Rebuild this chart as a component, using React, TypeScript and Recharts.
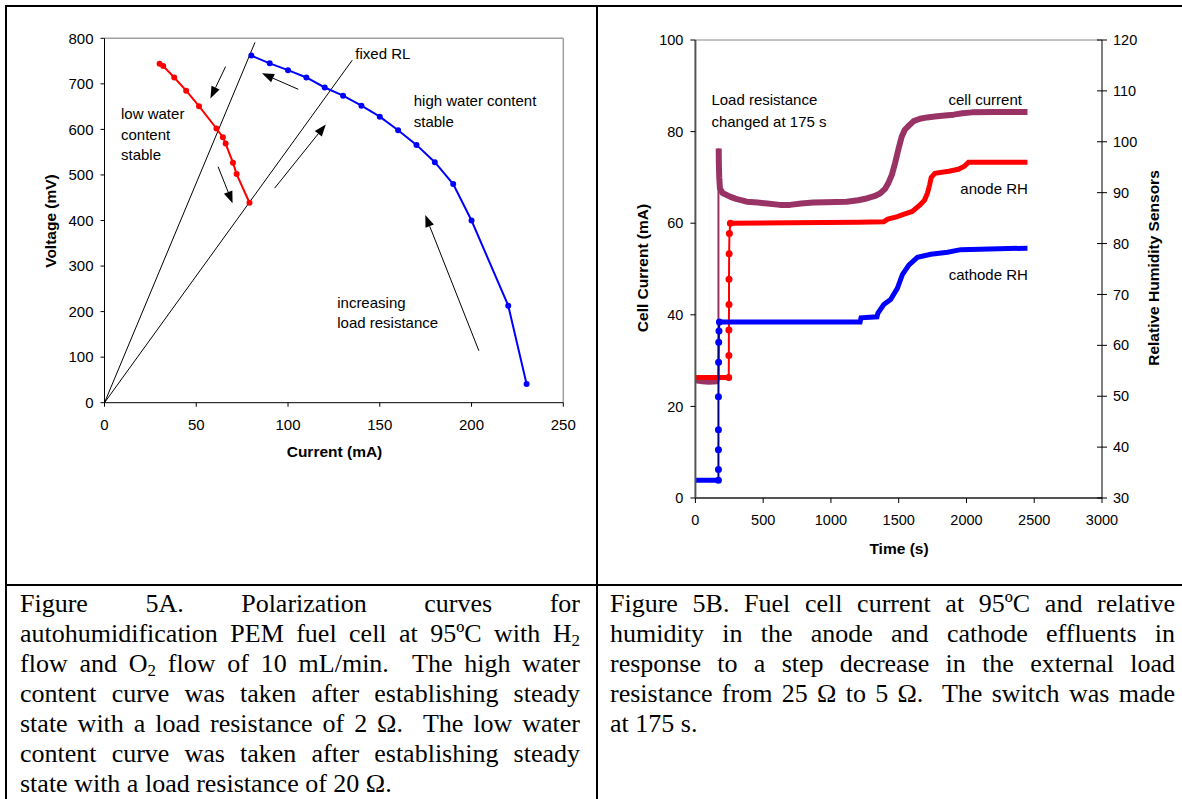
import React from 'react';
import { ComposedChart, Line, XAxis, YAxis, ReferenceLine, ReferenceDot } from 'recharts';

// ---------- Figure 5A data (polarization curves) ----------
const highCurrent = [80, 90, 100, 110, 120, 130, 140, 150, 160, 170, 180, 190, 200, 220, 230];
const highVoltage = [762, 745, 730, 714, 692, 674, 652, 628, 598, 566, 528, 480, 400, 213, 41];
const lowCurrent = [30, 32, 38, 44.5, 51.5, 61, 64.5, 66, 70, 72, 79];
const lowVoltage = [744, 739, 714, 685, 651, 602, 583, 569, 527, 502, 439];
const polXTicks = [0, 50, 100, 150, 200, 250];
const polYTicks = [0, 100, 200, 300, 400, 500, 600, 700, 800];
// load lines drawn from the origin to these end points (current, voltage)
const loadLineEnds = [
  { x: 82, y: 791 },
  { x: 135, y: 752 },
];
// annotation arrows: [from, to] in (current, voltage)
const polArrows = [
  [{ x: 66, y: 738 }, { x: 57.7, y: 668 }],
  [{ x: 61.9, y: 518 }, { x: 69.8, y: 438 }],
  [{ x: 105.6, y: 688 }, { x: 85.8, y: 723 }],
  [{ x: 92.7, y: 471 }, { x: 120.6, y: 611 }],
  [{ x: 204, y: 114 }, { x: 174.8, y: 412 }],
];
const polLabels = [
  { x: 136.7, y: 767, text: 'fixed RL' },
  { x: 168.5, y: 664, text: 'high water content' },
  { x: 168.5, y: 617, text: 'stable' },
  { x: 9, y: 634, text: 'low water' },
  { x: 9, y: 588, text: 'content' },
  { x: 9, y: 544, text: 'stable' },
  { x: 126.8, y: 220, text: 'increasing' },
  { x: 126.8, y: 176, text: 'load resistance' },
];

// ---------- Figure 5B data (transient) ----------
const cellBeforeT = [0, 50, 100, 168];
const cellBeforeV = [25.6, 25.4, 25.3, 25.4];
const cellJumpT = [170, 170];
const cellJumpV = [25.4, 76.3];
const cellAfterT = [172, 173, 176, 181, 200, 255, 300, 378, 460, 530, 624, 698, 780, 870, 960, 1116, 1200, 1264, 1320, 1362, 1400, 1423, 1450, 1473, 1500, 1522, 1545, 1575, 1610, 1657, 1710, 1767, 1840, 1905, 1970, 2040, 2200, 2450];
const cellAfterV = [76.3, 73, 70, 67.6, 66.6, 65.8, 65.3, 64.7, 64.5, 64.3, 64.0, 64.0, 64.3, 64.5, 64.6, 64.7, 65.0, 65.4, 65.9, 66.5, 67.5, 68.7, 70.6, 73.1, 76.4, 78.9, 80.4, 81.3, 82.3, 82.8, 83.1, 83.3, 83.5, 83.7, 84.0, 84.2, 84.3, 84.3];

const anodeBeforeT = [0, 120, 250];
const anodeBeforeV = [53.7, 53.7, 53.7];
const anodeJumpT = [246, 247, 247, 248, 248, 249, 251, 258];
const anodeJumpV = [53.7, 58, 63, 68, 73, 78, 82, 84];
const anodeAfterT = [258, 700, 1200, 1390, 1420, 1490, 1540, 1600, 1657, 1690, 1712, 1728, 1740, 1767, 1870, 1940, 1985, 2015, 2450];
const anodeAfterV = [84, 84.1, 84.2, 84.3, 84.8, 85.3, 85.8, 86.3, 87.6, 88.5, 89.9, 91.5, 93, 93.8, 94.2, 94.6, 95.2, 96, 96];

const cathodeBeforeT = [0, 170];
const cathodeBeforeV = [33.5, 33.5];
const cathodeJumpT = [170, 170, 170, 170, 170, 171, 172, 174, 177];
const cathodeJumpV = [33.5, 35.6, 39.5, 43.4, 49.9, 56.7, 60.6, 62.8, 64.6];
const cathodeAfterT = [177, 700, 1215, 1222, 1340, 1346, 1390, 1440, 1490, 1527, 1576, 1638, 1737, 1860, 1958, 2450];
const cathodeAfterV = [64.6, 64.6, 64.6, 65.4, 65.6, 66.3, 68, 69, 71.2, 73.9, 75.8, 77.3, 77.9, 78.3, 78.8, 79.1];

const timeTicks = [0, 500, 1000, 1500, 2000, 2500, 3000];
const currentTicks = [0, 20, 40, 60, 80, 100];
const rhTicks = [30, 40, 50, 60, 70, 80, 90, 100, 110, 120];
const transientLabels = [
  { x: 118, y: 87.1, text: 'Load resistance', anchor: 'start' },
  { x: 118, y: 82.1, text: 'changed at 175 s', anchor: 'start' },
  { x: 2409, y: 87.1, text: 'cell current', anchor: 'end' },
  { x: 2453, y: 67.5, text: 'anode RH', anchor: 'end' },
  { x: 2453, y: 48.8, text: 'cathode RH', anchor: 'end' },
];

const captionLeft = [
  'Figure 5A. Polarization curves for',
  'autohumidification PEM fuel cell at 95ºC with H|2',
  'flow and O|2| flow of 10 mL/min.  The high water',
  'content curve was taken after establishing steady',
  'state with a load resistance of 2 Ω.  The low water',
  'content curve was taken after establishing steady',
  'state with a load resistance of 20 Ω.',
];
const captionRight = [
  'Figure 5B. Fuel cell current at 95ºC and relative',
  'humidity in the anode and cathode effluents in',
  'response to a step decrease in the external load',
  'resistance from 25 Ω to 5 Ω.  The switch was made',
  'at 175 s.',
];

const zip = (xs: number[], ys: number[]) => xs.map((x, i) => ({ x, y: ys[i] }));

const SANS = 'Liberation Sans, Arial, sans-serif';
const SERIF = 'Liberation Serif, Times New Roman, serif';

const arrowShape = (props: any) => {
  const { x1, y1, x2, y2 } = props;
  const dx = x2 - x1;
  const dy = y2 - y1;
  const len = Math.sqrt(dx * dx + dy * dy) || 1;
  const ux = dx / len;
  const uy = dy / len;
  const hl = 12;
  const hw = 4.5;
  const bx = x2 - ux * hl;
  const by = y2 - uy * hl;
  const nx = -uy;
  const ny = ux;
  return (
    <g>
      <line x1={x1} y1={y1} x2={bx} y2={by} stroke="#000" strokeWidth={1} />
      <polygon points={`${x2},${y2} ${bx + nx * hw},${by + ny * hw} ${bx - nx * hw},${by - ny * hw}`} fill="#000" />
    </g>
  );
};

const textShape = (text: string, anchor: string) => (props: any) => (
  <text x={props.cx} y={props.cy} textAnchor={anchor} dominantBaseline="central" fontSize={15} fontFamily={SANS} fill="#000">
    {text}
  </text>
);

const RightTick = (props: any) => {
  const { x, y, payload } = props;
  const ax = x - 11;
  return (
    <g>
      <line x1={ax - 5} x2={ax} y1={y} y2={y} stroke="#000" strokeWidth={1} />
      <text x={x} y={y} dy="0.355em" textAnchor="start" fontSize={14.5} fontFamily={SANS} fill="#000">
        {payload.value}
      </text>
    </g>
  );
};

function PolarizationChart() {
  return (
    <ComposedChart width={600} height={470} margin={{ top: 38.3, right: 36.7, bottom: 37.3, left: 44.5 }}>
      <XAxis
        type="number"
        dataKey="x"
        domain={[0, 250]}
        ticks={polXTicks}
        allowDataOverflow
        height={30}
        stroke="#000"
        tickSize={4}
        tickMargin={13}
        tick={{ fontSize: 15, fill: '#000', fontFamily: SANS }}
      />
      <YAxis
        type="number"
        dataKey="y"
        domain={[0, 800]}
        ticks={polYTicks}
        allowDataOverflow
        width={60}
        stroke="#000"
        tickSize={4}
        tickMargin={7}
        tick={{ fontSize: 15, fill: '#000', fontFamily: SANS }}
      />
      <ReferenceLine y={800} stroke="#a0a0a0" strokeWidth={1.5} />
      <ReferenceLine x={250} stroke="#a0a0a0" strokeWidth={1.5} />
      {loadLineEnds.map((e, i) => (
        <ReferenceLine key={'ll' + i} segment={[{ x: 0, y: 0 }, e]} stroke="#000" strokeWidth={1} ifOverflow="visible" />
      ))}
      {polArrows.map((a, i) => (
        <ReferenceLine key={'ar' + i} segment={a} shape={arrowShape} ifOverflow="visible" />
      ))}
      <Line
        data={zip(lowCurrent, lowVoltage)}
        dataKey="y"
        stroke="#ff0000"
        strokeWidth={2}
        dot={{ r: 2, fill: '#ff0000', stroke: '#ff0000' }}
        isAnimationActive={false}
      />
      <Line
        data={zip(highCurrent, highVoltage)}
        dataKey="y"
        stroke="#0000ff"
        strokeWidth={2}
        dot={{ r: 2, fill: '#0000ff', stroke: '#0000ff' }}
        isAnimationActive={false}
      />
      {polLabels.map((l, i) => (
        <ReferenceDot key={'pl' + i} x={l.x} y={l.y} r={0} shape={textShape(l.text, 'start')} ifOverflow="visible" />
      ))}
    </ComposedChart>
  );
}

function TransientChart() {
  const thick = 5;
  return (
    <ComposedChart width={582} height={580} margin={{ top: 40, right: 20, bottom: 52, left: 35.4 }}>
      <XAxis
        type="number"
        dataKey="x"
        domain={[0, 3000]}
        ticks={timeTicks}
        allowDataOverflow
        height={30}
        axisLine={{ stroke: '#555', strokeWidth: 2 }}
        tickLine={{ stroke: '#000' }}
        tickSize={5}
        tickMargin={12}
        tick={{ fontSize: 14.5, fill: '#000', fontFamily: SANS }}
      />
      <YAxis
        yAxisId="left"
        type="number"
        domain={[0, 100]}
        ticks={currentTicks}
        allowDataOverflow
        width={60}
        axisLine={{ stroke: '#555', strokeWidth: 2 }}
        tickLine={{ stroke: '#000' }}
        tickSize={5}
        tickMargin={7}
        tick={{ fontSize: 14.5, fill: '#000', fontFamily: SANS }}
      />
      <YAxis
        yAxisId="right"
        orientation="right"
        type="number"
        domain={[30, 120]}
        ticks={rhTicks}
        allowDataOverflow
        width={60}
        axisLine={{ stroke: '#000', strokeWidth: 1 }}
        tickLine={{ stroke: '#000' }}
        tickSize={5}
        tickMargin={6}
        tick={<RightTick />}
      />
      <ReferenceLine yAxisId="left" y={100} stroke="#888" strokeWidth={1} />
      {/* cell current */}
      <Line yAxisId="left" data={zip(cellBeforeT, cellBeforeV)} dataKey="y" stroke="#993366" strokeWidth={thick} dot={false} isAnimationActive={false} />
      <Line yAxisId="left" data={zip(cellJumpT, cellJumpV)} dataKey="y" stroke="#993366" strokeWidth={2} dot={false} isAnimationActive={false} />
      {/* anode RH */}
      <Line yAxisId="right" data={zip(anodeBeforeT, anodeBeforeV)} dataKey="y" stroke="#ff0000" strokeWidth={thick} dot={false} isAnimationActive={false} />
      <Line yAxisId="right" data={zip(anodeJumpT, anodeJumpV)} dataKey="y" stroke="#ff0000" strokeWidth={2} dot={{ r: 2.5, fill: '#ff0000', stroke: '#ff0000' }} isAnimationActive={false} />
      <Line yAxisId="right" data={zip(anodeAfterT, anodeAfterV)} dataKey="y" stroke="#ff0000" strokeWidth={thick} dot={false} isAnimationActive={false} />
      {/* cathode RH */}
      <Line yAxisId="right" data={zip(cathodeBeforeT, cathodeBeforeV)} dataKey="y" stroke="#0000ff" strokeWidth={thick} dot={false} isAnimationActive={false} />
      <Line yAxisId="right" data={zip(cathodeJumpT, cathodeJumpV)} dataKey="y" stroke="#000080" strokeWidth={2} dot={{ r: 2.5, fill: '#0000ff', stroke: '#0000ff' }} isAnimationActive={false} />
      <Line yAxisId="right" data={zip(cathodeAfterT, cathodeAfterV)} dataKey="y" stroke="#0000ff" strokeWidth={thick} dot={false} isAnimationActive={false} />
      {/* cell current after the switch drawn on top */}
      <Line yAxisId="left" data={zip(cellAfterT, cellAfterV)} dataKey="y" stroke="#993366" strokeWidth={6} strokeLinejoin="round" dot={false} isAnimationActive={false} />
      {transientLabels.map((l, i) => (
        <ReferenceDot key={'tl' + i} yAxisId="left" x={l.x} y={l.y} r={0} shape={textShape(l.text, l.anchor)} ifOverflow="visible" />
      ))}
    </ComposedChart>
  );
}

const renderCaptionLine = (line: string) => {
  const parts = line.split('|');
  return parts.map((p, i) =>
    i % 2 === 1 ? (
      <sub key={i} style={{ fontSize: '0.65em', lineHeight: 0, verticalAlign: '-0.25em' }}>{p}</sub>
    ) : (
      <React.Fragment key={i}>{p}</React.Fragment>
    )
  );
};

function Caption({ lines, left, width }: { lines: string[]; left: number; width: number }) {
  return (
    <div
      style={{
        position: 'absolute',
        left,
        top: 589,
        width,
        fontFamily: SERIF,
        fontSize: 26,
        lineHeight: '30px',
        color: '#000',
        whiteSpace: 'pre-wrap',
      }}
    >
      {lines.map((l, i) => (
        <div
          key={i}
          style={{
            textAlign: 'justify',
            textAlignLast: i === lines.length - 1 ? 'left' : 'justify',
            height: 30,
            overflow: 'visible',
          }}
        >
          {renderCaptionLine(l)}
        </div>
      ))}
    </div>
  );
}

const titleStyle = (x: number, y: number, rotate: boolean): React.CSSProperties => ({
  position: 'absolute',
  left: x,
  top: y,
  transform: `translate(-50%, -50%)${rotate ? ' rotate(-90deg)' : ''}`,
  fontFamily: SANS,
  fontWeight: 'bold',
  fontSize: 15.5,
  whiteSpace: 'nowrap',
  color: '#000',
  lineHeight: 1,
});

export default function App() {
  return (
    <div style={{ position: 'absolute', left: 0, top: 0, width: 1182, height: 799, background: '#fff', overflow: 'hidden' }}>
      <div style={{ position: 'absolute', left: 5, top: 5, width: 1177, height: 2, background: '#000' }} />
      <div style={{ position: 'absolute', left: 5, top: 5, width: 2, height: 794, background: '#000' }} />
      <div style={{ position: 'absolute', left: 596, top: 5, width: 2, height: 794, background: '#000' }} />
      <div style={{ position: 'absolute', left: 5, top: 584, width: 1177, height: 2, background: '#000' }} />

      <div style={{ position: 'absolute', left: 0, top: 0 }}>
        <PolarizationChart />
      </div>
      <div style={{ position: 'absolute', left: 600, top: 0 }}>
        <TransientChart />
      </div>

      <div style={titleStyle(51, 221, true)}>Voltage (mV)</div>
      <div style={titleStyle(334.5, 451.5, false)}>Current (mA)</div>
      <div style={titleStyle(643, 268, true)}>Cell Current (mA)</div>
      <div style={titleStyle(1154, 268, true)}>Relative Humidity Sensors</div>
      <div style={titleStyle(899, 549, false)}>Time (s)</div>

      <Caption lines={captionLeft} left={20} width={560} />
      <Caption lines={captionRight} left={610} width={565} />
    </div>
  );
}
